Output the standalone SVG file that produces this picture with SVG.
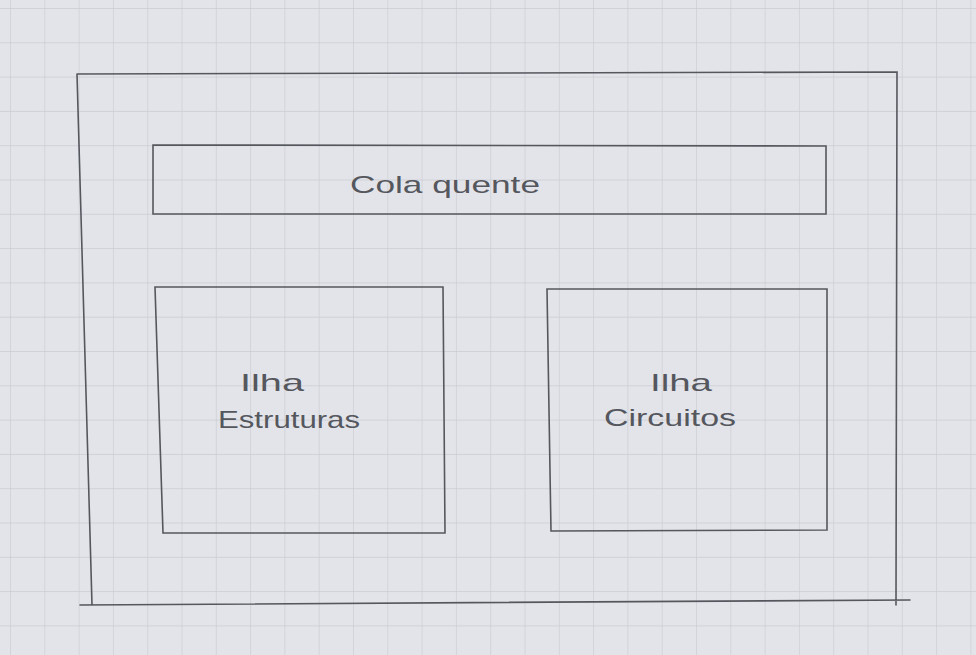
<svg xmlns="http://www.w3.org/2000/svg" width="976" height="655" viewBox="0 0 976 655">
  <defs>
    <pattern id="grid" x="10" y="8" width="34.3" height="34.3" patternUnits="userSpaceOnUse">
      <path d="M0 0V34.3M0 0H34.3" fill="none" stroke="#c9cbd2" stroke-width="1.3"/>
    </pattern>
  </defs>
  <style>
    .box { fill: none; stroke: #55575e; stroke-width: 1.6; stroke-linecap: round; }
    .lbl { font-family: "Liberation Sans", "DejaVu Sans", sans-serif; font-size: 24px; fill: #55575e; }
  </style>
  <rect width="976" height="655" fill="#e3e4e9"/>
  <rect width="976" height="655" fill="url(#grid)"/>

  <g id="container">
    <path class="box" d="M77 74 L897 72 L896 605 M77 74 L92 605 M80 605 L910 600"/>
  </g>
  <g id="cola-quente">
    <path class="box" d="M153 145 L826 146 L826 214 L153 214 Z"/>
    <text class="lbl" x="350" y="193" textLength="190" lengthAdjust="spacingAndGlyphs">Cola quente</text>
  </g>
  <g id="ilha-estruturas">
    <path class="box" d="M155 287 L443 287 L445 533 L163 533 Z"/>
    <text class="lbl" x="240" y="391" textLength="64" lengthAdjust="spacingAndGlyphs">Ilha</text>
    <text class="lbl" x="218" y="428" textLength="142" lengthAdjust="spacingAndGlyphs">Estruturas</text>
  </g>
  <g id="ilha-circuitos">
    <path class="box" d="M547 289 L827 289 L827 530 L551 531 Z"/>
    <text class="lbl" x="650" y="391" textLength="62" lengthAdjust="spacingAndGlyphs">Ilha</text>
    <text class="lbl" x="604" y="426" textLength="132" lengthAdjust="spacingAndGlyphs">Circuitos</text>
  </g>
  <g id="connectors"></g>
</svg>
